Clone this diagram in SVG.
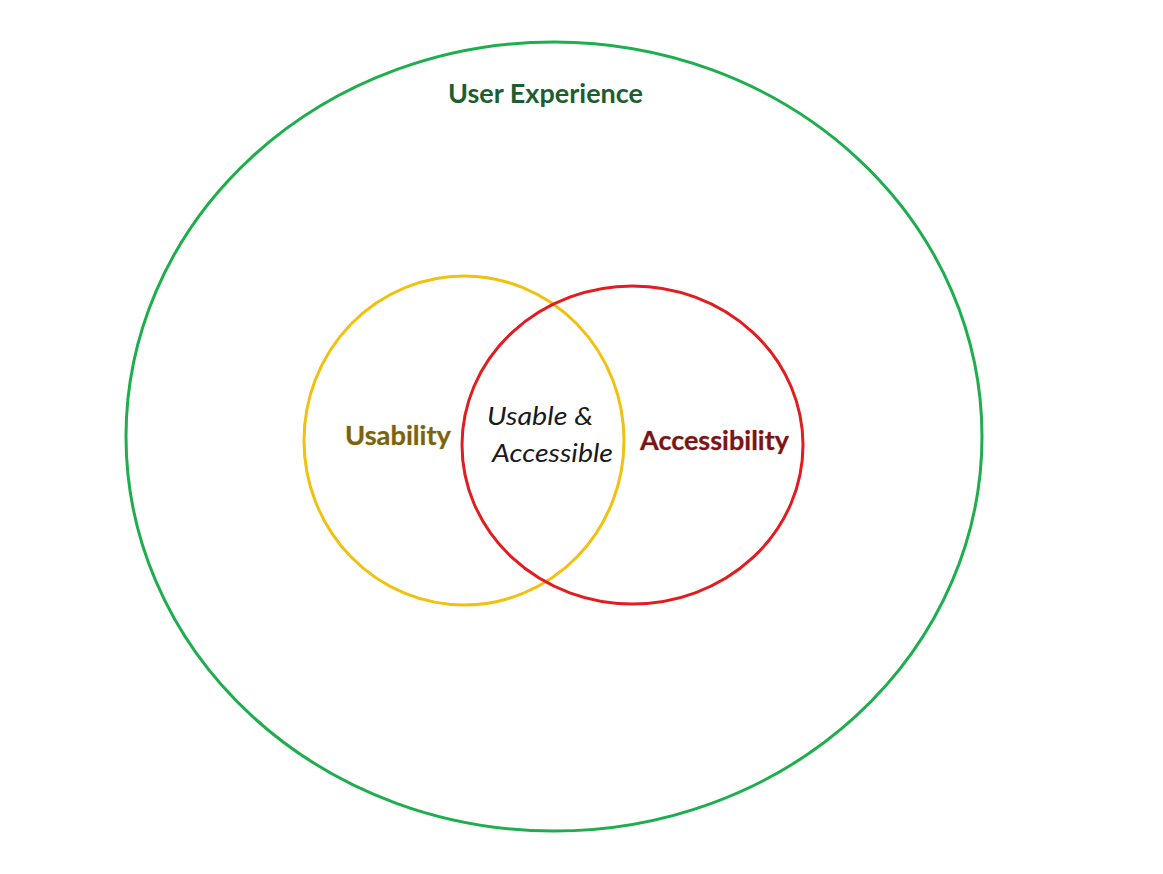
<svg xmlns="http://www.w3.org/2000/svg" width="1163" height="874" viewBox="0 0 1163 874">
  <style>
    .ring { fill: none; stroke-width: 3; }
    .lbl { font-family: Lato, "Open Sans", "Liberation Sans", sans-serif; font-weight: bold; text-anchor: middle; }
    .mid { font-family: Lato, "Open Sans", "Liberation Sans", sans-serif; font-style: italic; font-size: 25px; fill: #1a1a1a; text-anchor: middle; }
  </style>
  <rect width="1163" height="874" fill="#ffffff"/>
  <g id="user-experience">
    <ellipse class="ring" cx="554" cy="436.5" rx="428" ry="394.5" stroke="#1fae4e"/>
    <text class="lbl" x="545.5" y="103" font-size="26.5" fill="#1d5e31" textLength="195" lengthAdjust="spacingAndGlyphs">User Experience</text>
  </g>
  <g id="usability">
    <ellipse class="ring" cx="464" cy="440.5" rx="160" ry="164.5" stroke="#f2c00e"/>
    <text class="lbl" x="398" y="445" font-size="26" fill="#7a6310" stroke="#d8c98a" stroke-width="0.6" paint-order="stroke" textLength="106" lengthAdjust="spacingAndGlyphs">Usability</text>
  </g>
  <g id="accessibility">
    <ellipse class="ring" cx="632.5" cy="445" rx="170.5" ry="159" stroke="#e41b1f"/>
    <text class="lbl" x="714.5" y="450" font-size="26" fill="#7a1515" stroke="#d9a0a0" stroke-width="0.6" paint-order="stroke" textLength="149" lengthAdjust="spacingAndGlyphs">Accessibility</text>
  </g>
  <g id="overlap">
    <text class="mid" x="540" y="425" textLength="106" lengthAdjust="spacingAndGlyphs">Usable &amp;</text>
    <text class="mid" x="552.5" y="462" textLength="121" lengthAdjust="spacingAndGlyphs">Accessible</text>
  </g>
</svg>
